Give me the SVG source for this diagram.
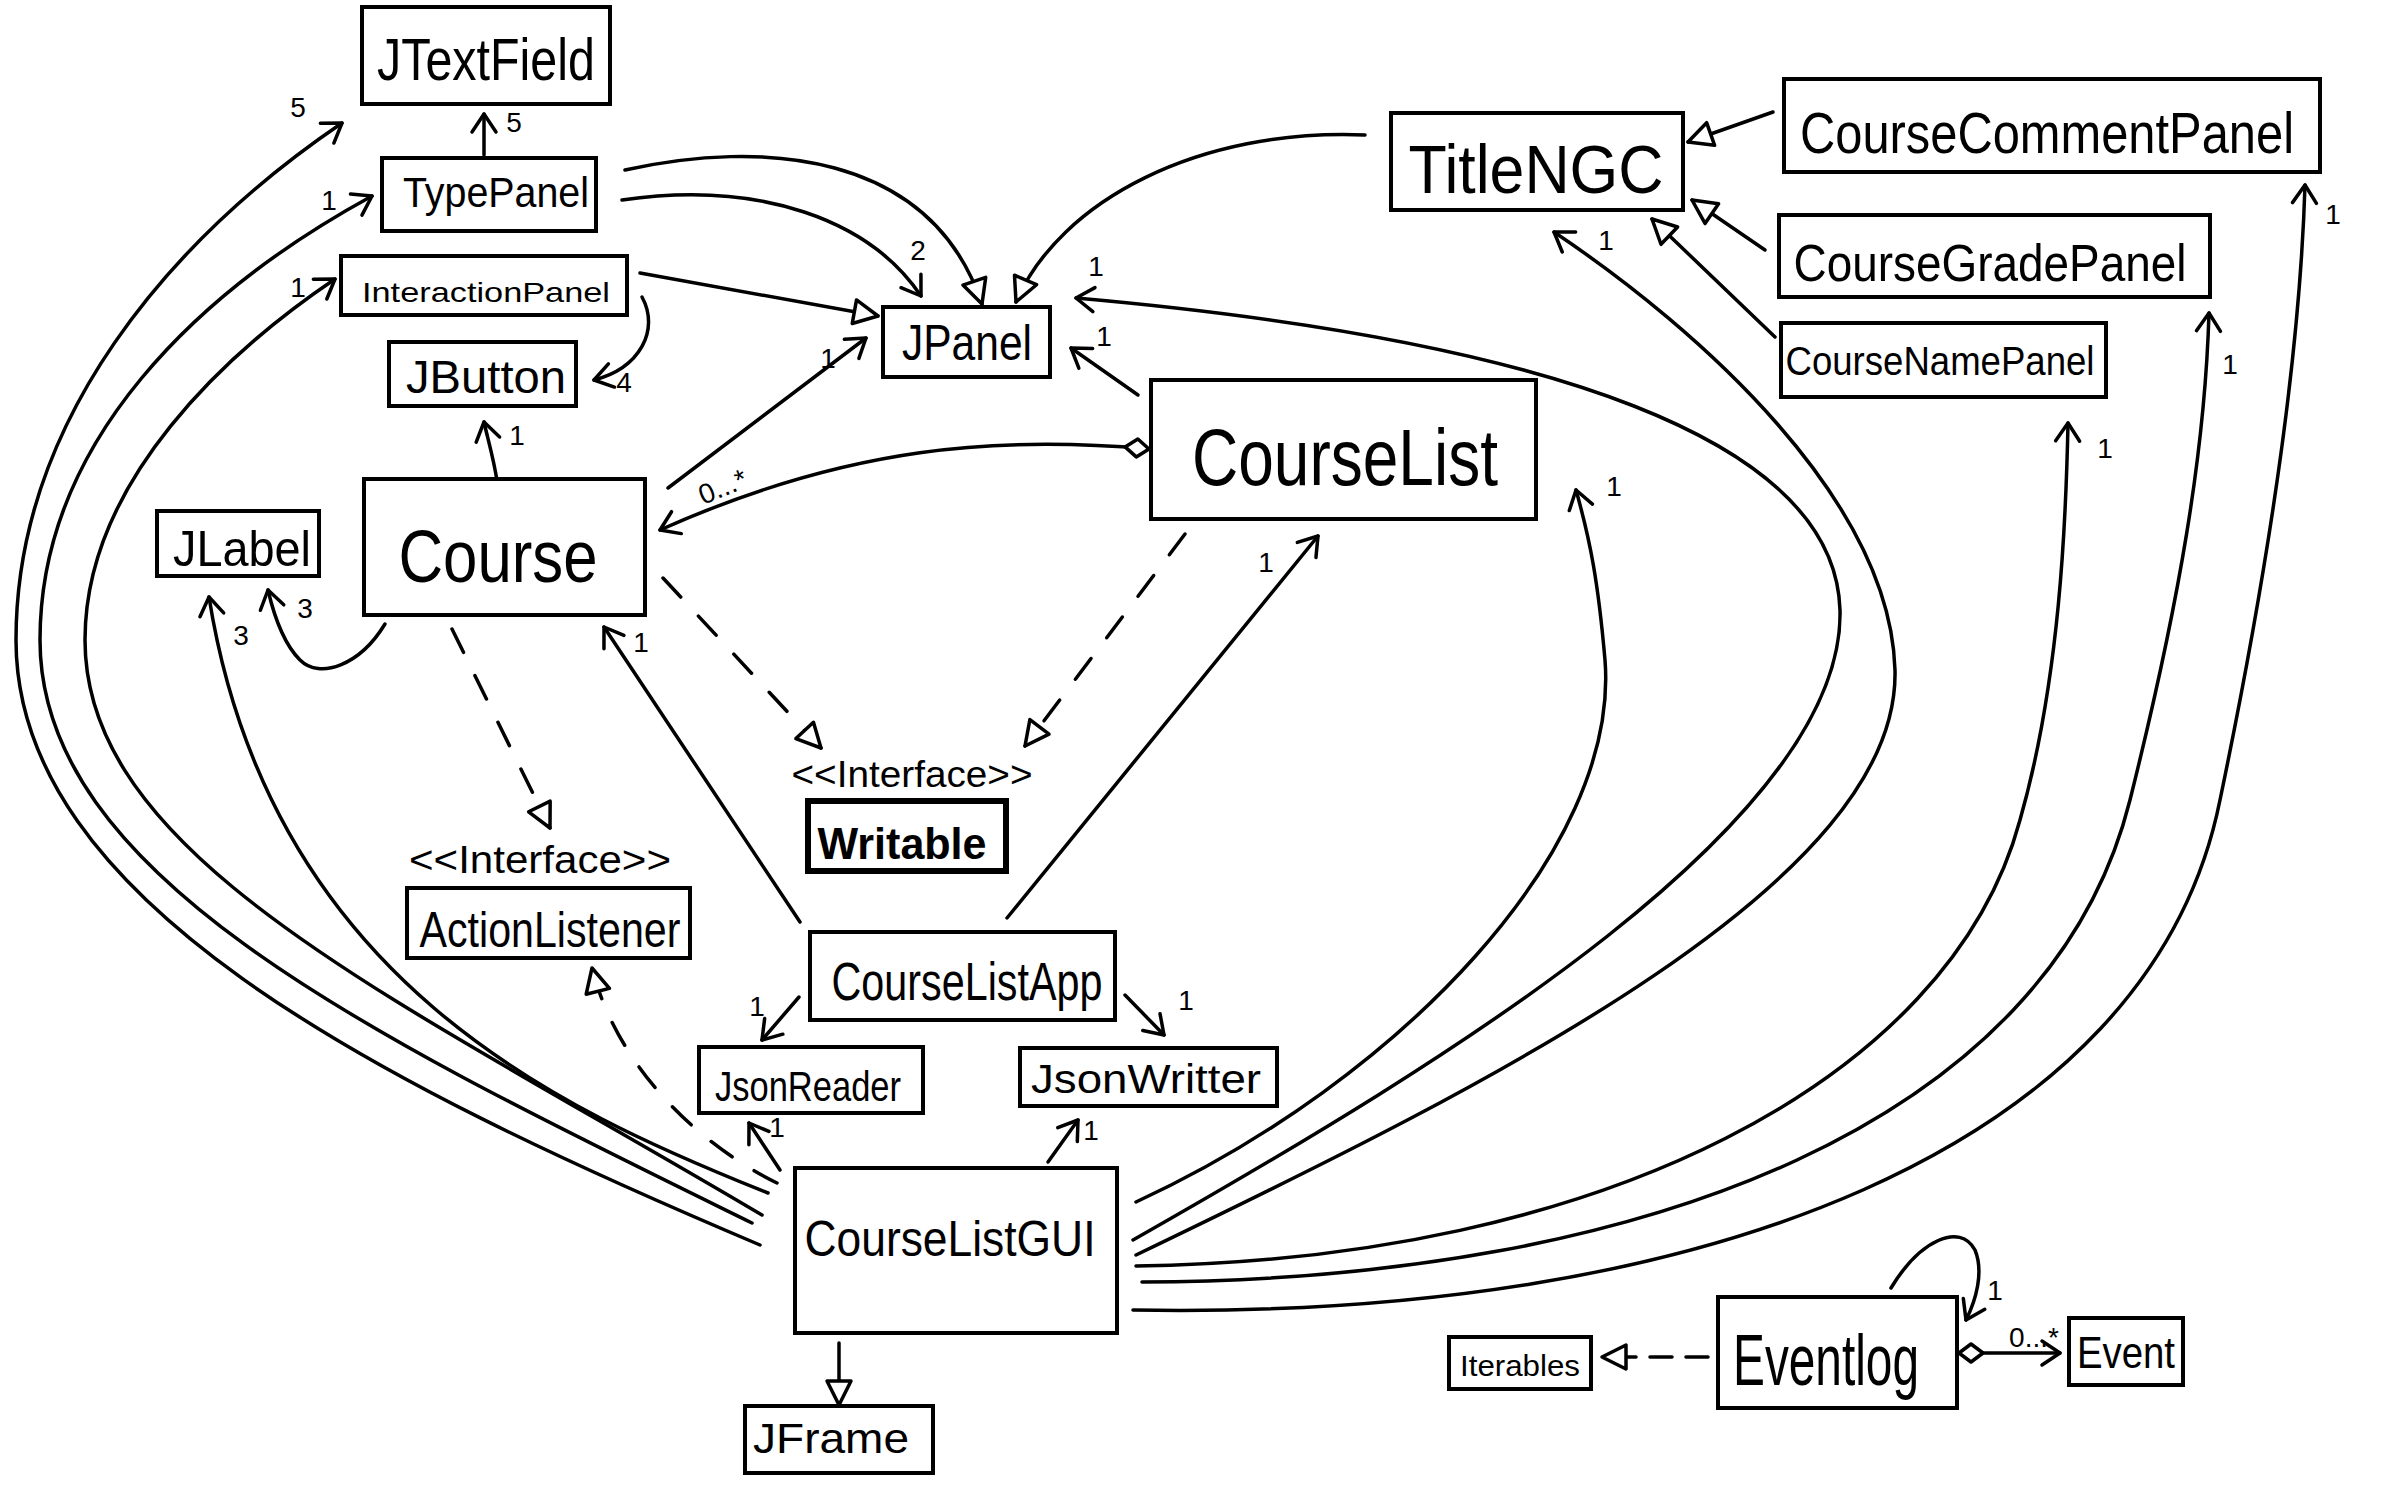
<svg xmlns="http://www.w3.org/2000/svg" width="2386" height="1491" viewBox="0 0 2386 1491">
<style>
.box{fill:#fff;stroke:#000;stroke-width:4}
.bold{stroke-width:6}
.t{font-family:"Liberation Sans",Arial,sans-serif;fill:#000;text-anchor:middle}
.lb{font-family:"Liberation Sans",Arial,sans-serif;fill:#000;font-size:28px;text-anchor:middle}
.c{fill:none;stroke:#000;stroke-width:3.5;stroke-linecap:round}
.d{stroke-dasharray:26 26}
.open{marker-end:url(#open)}
.tri{marker-end:url(#tri)}
</style>
<defs>
<marker id="open" markerUnits="userSpaceOnUse" viewBox="-24 -16 30 32" refX="0" refY="0" markerWidth="30" markerHeight="32" orient="auto">
<path d="M-18,-12 L0,0 L-18,12" fill="none" stroke="#000" stroke-width="3.5" stroke-linecap="round" stroke-linejoin="round"/>
</marker>
<marker id="tri" markerUnits="userSpaceOnUse" viewBox="-28 -16 32 32" refX="0" refY="0" markerWidth="32" markerHeight="32" orient="auto">
<path d="M-24,-12 L0,0 L-24,12 Z" fill="#fff" stroke="#000" stroke-width="3.5" stroke-linejoin="round"/>
</marker>
<marker id="dia" markerUnits="userSpaceOnUse" viewBox="-2 -12 30 24" refX="0" refY="0" markerWidth="30" markerHeight="24" orient="auto">
<path d="M0,0 L12,-9 L24,0 L12,9 Z" fill="#fff" stroke="#000" stroke-width="3.5" stroke-linejoin="round"/>
</marker>
</defs>
<rect width="2386" height="1491" fill="#fff"/>

<g id="connectors">
<!-- TypePanel -> JTextField -->
<path class="c open" d="M484,155 L484,114"/>
<text class="lb" x="514" y="132" font-size="22">5</text>
<!-- InteractionPanel -> JButton -->
<path class="c open" d="M642,297 C660,330 640,368 594,380"/>
<text class="lb" x="624" y="392">4</text>
<!-- Course -> JButton -->
<path class="c open" d="M497,481 C494,460 488,440 484,422"/>
<text class="lb" x="517" y="445">1</text>
<!-- TypePanel -> JPanel (generalization) -->
<path class="c tri" d="M625,170 C760,140 930,150 982,304"/>
<!-- TypePanel -> JPanel 2 -->
<path class="c open" d="M622,200 C760,180 870,220 921,296"/>
<text class="lb" x="918" y="260" font-size="24">2</text>
<!-- InteractionPanel -> JPanel -->
<path class="c tri" d="M640,273 L878,316"/>
<!-- Course -> JPanel -->
<path class="c open" d="M668,488 L866,338"/>
<text class="lb" x="828" y="368">1</text>
<!-- TitleNGC -> JPanel -->
<path class="c tri" d="M1365,135 C1200,128 1060,200 1016,302"/>
<!-- CourseList -> JPanel -->
<path class="c open" d="M1138,395 L1071,348"/>
<text class="lb" x="1104" y="346">1</text>
<!-- CourseList <>-> Course -->
<path class="c open" d="M1149,449 C1000,436 850,445 660,530" marker-start="url(#dia)"/>
<text class="lb" x="724" y="496" font-size="24" transform="rotate(-22 724 490)">0...*</text>
<!-- Course ..> Writable -->
<path class="c d tri" d="M663,578 L821,748"/>
<!-- Course ..> ActionListener -->
<path class="c d tri" d="M452,629 L550,828"/>
<!-- CourseList ..> Writable -->
<path class="c d tri" d="M1185,534 L1025,746"/>
<!-- CourseListApp -> Course -->
<path class="c open" d="M800,922 L604,627"/>
<text class="lb" x="641" y="652">1</text>
<!-- CourseListApp -> CourseList -->
<path class="c open" d="M1007,918 L1318,536"/>
<text class="lb" x="1266" y="572">1</text>
<!-- CourseListApp -> JsonReader -->
<path class="c open" d="M799,997 L762,1040"/>
<text class="lb" x="757" y="1016" font-size="22">1</text>
<!-- CourseListApp -> JsonWritter -->
<path class="c open" d="M1125,995 L1164,1035"/>
<text class="lb" x="1186" y="1010" font-size="22">1</text>
<!-- CourseListGUI -> JsonReader -->
<path class="c open" d="M780,1170 L749,1123"/>
<text class="lb" x="777" y="1137" font-size="22">1</text>
<!-- CourseListGUI -> JsonWritter -->
<path class="c open" d="M1048,1162 L1078,1120"/>
<text class="lb" x="1091" y="1140">1</text>
<!-- CourseListGUI -> JFrame -->
<path class="c tri" d="M839,1343 L839,1405"/>
<!-- CourseListGUI ..> ActionListener -->
<path class="c d tri" d="M777,1183 C690,1140 615,1060 592,968"/>
<!-- CourseListGUI -> JLabel -->
<path class="c open" d="M768,1193 C560,1110 270,980 209,597"/>
<text class="lb" x="241" y="645">3</text>
<!-- Course -> JLabel -->
<path class="c open" d="M385,624 C360,665 320,680 300,660 C285,645 275,620 268,590"/>
<text class="lb" x="305" y="618">3</text>
<!-- CourseListGUI -> InteractionPanel -->
<path class="c open" d="M762,1215 C400,1000 85,860 85,640 C85,480 230,350 335,279"/>
<text class="lb" x="298" y="297">1</text>
<!-- CourseListGUI -> TypePanel -->
<path class="c open" d="M752,1223 C380,1040 40,880 40,640 C40,440 200,290 372,196"/>
<text class="lb" x="329" y="210">1</text>
<!-- CourseListGUI -> JTextField -->
<path class="c open" d="M760,1245 C370,1080 16,900 16,640 C16,420 170,240 342,123"/>
<text class="lb" x="298" y="117">5</text>
<!-- CourseListGUI -> CourseList -->
<path class="c open" d="M1136,1202 C1400,1080 1620,850 1605,660 C1598,580 1590,540 1576,490"/>
<text class="lb" x="1614" y="496">1</text>
<!-- CourseListGUI -> JPanel -->
<path class="c open" d="M1133,1240 C1450,1060 1845,820 1840,610 C1835,440 1550,340 1076,298"/>
<text class="lb" x="1096" y="276">1</text>
<!-- CourseListGUI -> TitleNGC -->
<path class="c open" d="M1136,1255 C1500,1080 1900,880 1895,670 C1890,500 1700,330 1554,232"/>
<text class="lb" x="1606" y="250">1</text>
<!-- CourseListGUI -> CourseNamePanel -->
<path class="c open" d="M1136,1266 C1600,1260 1950,1080 2020,820 C2060,680 2066,520 2068,423"/>
<text class="lb" x="2105" y="458">1</text>
<!-- CourseListGUI -> CourseGradePanel -->
<path class="c open" d="M1142,1282 C1650,1280 2050,1120 2130,800 C2180,600 2205,450 2209,313"/>
<text class="lb" x="2230" y="374">1</text>
<!-- CourseListGUI -> CourseCommentPanel -->
<path class="c open" d="M1133,1310 C1700,1320 2150,1150 2220,800 C2270,560 2300,350 2305,185"/>
<text class="lb" x="2333" y="224">1</text>
<!-- panels -> TitleNGC -->
<path class="c tri" d="M1773,112 L1688,142"/>
<path class="c tri" d="M1765,250 L1692,200"/>
<path class="c tri" d="M1775,337 L1652,219"/>
<!-- Eventlog ..> Iterables -->
<path class="c tri" d="M1708,1357 L1602,1357" stroke-dasharray="22 14"/>
<!-- Eventlog <>-> Event -->
<path class="c open" d="M1959,1353 L2060,1353" marker-start="url(#dia)"/>
<text class="lb" x="2034" y="1347" font-size="17">0...*</text>
<!-- Eventlog self -->
<path class="c open" d="M1891,1288 C1920,1240 1960,1222 1975,1250 C1984,1272 1976,1300 1966,1320"/>
<text class="lb" x="1995" y="1300" font-size="17">1</text>
</g>

<g id="JTextField"><rect class="box" x="362" y="7" width="248" height="97"/><text class="t" x="486" y="80" font-size="60" textLength="218" lengthAdjust="spacingAndGlyphs">JTextField</text></g>
<g id="TypePanel"><rect class="box" x="382" y="158" width="214" height="73"/><text class="t" x="496" y="207" font-size="42" textLength="186" lengthAdjust="spacingAndGlyphs">TypePanel</text></g>
<g id="InteractionPanel"><rect class="box" x="341" y="256" width="286" height="59"/><text class="t" x="486" y="302" font-size="28" textLength="248" lengthAdjust="spacingAndGlyphs">InteractionPanel</text></g>
<g id="JButton"><rect class="box" x="389" y="342" width="187" height="64"/><text class="t" x="486" y="393" font-size="46" textLength="160" lengthAdjust="spacingAndGlyphs">JButton</text></g>
<g id="Course"><rect class="box" x="364" y="479" width="281" height="136"/><text class="t" x="498" y="582" font-size="75" textLength="199" lengthAdjust="spacingAndGlyphs">Course</text></g>
<g id="JLabel"><rect class="box" x="157" y="511" width="162" height="65"/><text class="t" x="242" y="566" font-size="50" textLength="138" lengthAdjust="spacingAndGlyphs">JLabel</text></g>
<g id="JPanel"><rect class="box" x="883" y="307" width="167" height="70"/><text class="t" x="967" y="360" font-size="50" textLength="130" lengthAdjust="spacingAndGlyphs">JPanel</text></g>
<g id="TitleNGC"><rect class="box" x="1391" y="113" width="292" height="97"/><text class="t" x="1536" y="193" font-size="68" textLength="255" lengthAdjust="spacingAndGlyphs">TitleNGC</text></g>
<g id="CourseList"><rect class="box" x="1151" y="380" width="385" height="139"/><text class="t" x="1345" y="485" font-size="80" textLength="306" lengthAdjust="spacingAndGlyphs">CourseList</text></g>
<g id="CourseCommentPanel"><rect class="box" x="1784" y="79" width="536" height="93"/><text class="t" x="2047" y="153" font-size="58" textLength="494" lengthAdjust="spacingAndGlyphs">CourseCommentPanel</text></g>
<g id="CourseGradePanel"><rect class="box" x="1779" y="215" width="431" height="82"/><text class="t" x="1990" y="281" font-size="52" textLength="393" lengthAdjust="spacingAndGlyphs">CourseGradePanel</text></g>
<g id="CourseNamePanel"><rect class="box" x="1781" y="323" width="325" height="74"/><text class="t" x="1940" y="375" font-size="40" textLength="309" lengthAdjust="spacingAndGlyphs">CourseNamePanel</text></g>
<g id="Writable"><text class="t" x="912" y="787" font-size="36" textLength="241" lengthAdjust="spacingAndGlyphs">&lt;&lt;Interface&gt;&gt;</text><rect class="box bold" x="808" y="801" width="198" height="70"/><text class="t" x="902" y="859" font-size="44" font-weight="bold" textLength="169" lengthAdjust="spacingAndGlyphs">Writable</text></g>
<g id="ActionListener"><text class="t" x="540" y="873" font-size="38" textLength="262" lengthAdjust="spacingAndGlyphs">&lt;&lt;Interface&gt;&gt;</text><rect class="box" x="407" y="888" width="283" height="70"/><text class="t" x="550" y="947" font-size="50" textLength="261" lengthAdjust="spacingAndGlyphs">ActionListener</text></g>
<g id="CourseListApp"><rect class="box" x="810" y="932" width="305" height="88"/><text class="t" x="967" y="1000" font-size="54" textLength="271" lengthAdjust="spacingAndGlyphs">CourseListApp</text></g>
<g id="JsonReader"><rect class="box" x="699" y="1047" width="224" height="66"/><text class="t" x="808" y="1101" font-size="42" textLength="186" lengthAdjust="spacingAndGlyphs">JsonReader</text></g>
<g id="JsonWritter"><rect class="box" x="1020" y="1048" width="257" height="58"/><text class="t" x="1146" y="1093" font-size="40" textLength="230" lengthAdjust="spacingAndGlyphs">JsonWritter</text></g>
<g id="CourseListGUI"><rect class="box" x="795" y="1168" width="322" height="165"/><text class="t" x="950" y="1256" font-size="50" textLength="291" lengthAdjust="spacingAndGlyphs">CourseListGUI</text></g>
<g id="JFrame"><rect class="box" x="745" y="1406" width="188" height="67"/><text class="t" x="831" y="1453" font-size="42" textLength="156" lengthAdjust="spacingAndGlyphs">JFrame</text></g>
<g id="Iterables"><rect class="box" x="1449" y="1337" width="142" height="52"/><text class="t" x="1520" y="1376" font-size="30" textLength="120" lengthAdjust="spacingAndGlyphs">Iterables</text></g>
<g id="Eventlog"><rect class="box" x="1718" y="1297" width="239" height="111"/><text class="t" x="1826" y="1385" font-size="72" textLength="186" lengthAdjust="spacingAndGlyphs">Eventlog</text></g>
<g id="Event"><rect class="box" x="2069" y="1318" width="114" height="67"/><text class="t" x="2126" y="1368" font-size="45" textLength="98" lengthAdjust="spacingAndGlyphs">Event</text></g>
</svg>
